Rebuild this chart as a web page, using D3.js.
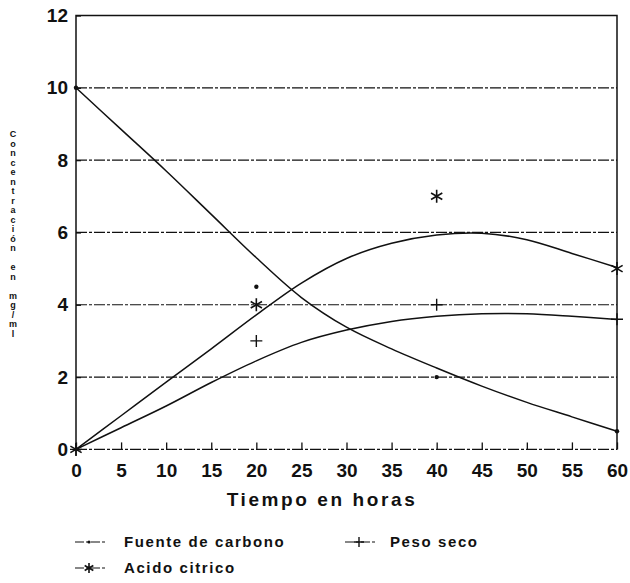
<!DOCTYPE html>
<html>
<head>
<meta charset="utf-8">
<script src="https://cdn.jsdelivr.net/npm/d3@7"></script>
<style>
  html, body { margin: 0; padding: 0; background: #fff; }
  svg { display: block; }
  text { font-family: "Liberation Sans", Arial, Helvetica, sans-serif; fill: #111; }
</style>
</head>
<body>
<svg id="chart" width="630" height="583"></svg>
<script>
// Fitted curves, sampled every 5 hours (mg/ml)
const hours = [0, 5, 10, 15, 20, 25, 30, 35, 40, 45, 50, 55, 60];
const carbonCurve = [10, 8.85, 7.7, 6.5, 5.3, 4.2, 3.38, 2.78, 2.25, 1.75, 1.3, 0.9, 0.5];
const dryWeightCurve = [0, 0.6, 1.2, 1.85, 2.45, 2.96, 3.3, 3.54, 3.68, 3.75, 3.75, 3.68, 3.59];
const citricCurve = [0, 0.93, 1.86, 2.78, 3.72, 4.6, 5.28, 5.7, 5.93, 5.98, 5.8, 5.42, 5.03];

// Measured points
const sampleHours = [0, 20, 40, 60];
const carbonPoints = [10, 4.5, 2, 0.5];
const dryWeightPoints = [0, 3, 4, 3.6];
const citricPoints = [0, 4, 7, 5];

const xTicks = [0, 5, 10, 15, 20, 25, 30, 35, 40, 45, 50, 55, 60];
const yTicks = [0, 2, 4, 6, 8, 10, 12];
const gridValues = [0, 2, 4, 6, 8, 10];

const xTitle = "Tiempo en horas";
const yTitle = "Concentración en mg/ml";
const legendLabels = ["Fuente de carbono", "Peso seco", "Acido citrico"];

const svg = d3.select("#chart");
const W = 630, H = 583;
const m = { left: 76, right: 13, top: 15.5, bottom: 133.6 };

const x = d3.scaleLinear().domain([0, 60]).range([m.left, W - m.right]);
const y = d3.scaleLinear().domain([0, 12]).range([H - m.bottom, m.top]);

const ink = "#111";
const gridDash = "11,2,3,2";

// Horizontal dash-dot grid lines (the one at 0 doubles as the x axis line)
svg.append("g").selectAll("line").data(gridValues).join("line")
  .attr("x1", x(0)).attr("x2", x(60))
  .attr("y1", d => y(d)).attr("y2", d => y(d))
  .attr("stroke", ink).attr("stroke-width", 1.2)
  .attr("stroke-dasharray", gridDash);

// Frame: left axis, top and right borders
svg.append("path")
  .attr("d", `M${x(0)},${y(0)}V${y(12)}H${x(60)}V${y(0)}`)
  .attr("fill", "none").attr("stroke", ink).attr("stroke-width", 1.5);

// X axis: ticks pointing inward, labels below
const xAxis = d3.axisBottom(x).tickValues(xTicks).tickSize(-7).tickPadding(14)
  .tickFormat(d3.format("d"));
const gx = svg.append("g").attr("transform", `translate(0,${y(0)})`).call(xAxis);
gx.select(".domain").remove();
gx.selectAll(".tick line").attr("stroke", ink).attr("stroke-width", 1.3);
gx.selectAll(".tick text")
  .attr("font-size", 19).attr("font-weight", "bold")
  .attr("font-family", "Liberation Sans, Arial, sans-serif").attr("fill", ink);

// Y axis: short inward ticks, labels on the left
const yAxis = d3.axisLeft(y).tickValues(yTicks).tickSize(-5).tickPadding(8)
  .tickFormat(d3.format("d"));
const gy = svg.append("g").attr("transform", `translate(${x(0)},0)`).call(yAxis);
gy.select(".domain").remove();
gy.selectAll(".tick line").attr("stroke", ink).attr("stroke-width", 1.3);
gy.selectAll(".tick text")
  .attr("font-size", 19).attr("font-weight", "bold")
  .attr("font-family", "Liberation Sans, Arial, sans-serif").attr("fill", ink);

// Fitted curves
const line = d3.line().x(d => x(d[0])).y(d => y(d[1])).curve(d3.curveCatmullRom.alpha(0.5));
[carbonCurve, dryWeightCurve, citricCurve].forEach(vals => {
  svg.append("path")
    .datum(hours.map((h, i) => [h, vals[i]]))
    .attr("d", line)
    .attr("fill", "none").attr("stroke", ink).attr("stroke-width", 1.5);
});

// Marker shapes
function dot(g, r) {
  g.append("circle").attr("r", r || 2.2).attr("fill", ink);
}
function plus(g, r) {
  r = r || 6;
  g.append("path").attr("d", `M${-r},0H${r}M0,${-r}V${r}`)
    .attr("stroke", ink).attr("stroke-width", 1.4).attr("fill", "none");
}
function star(g, r) {
  r = r || 6.5;
  const a = Math.cos(Math.PI / 6) * r, b = Math.sin(Math.PI / 6) * r;
  g.append("path")
    .attr("d", `M0,${-r}V${r}M${-a},${-b}L${a},${b}M${-a},${b}L${a},${-b}`)
    .attr("stroke", ink).attr("stroke-width", 1.6).attr("fill", "none");
}

function drawPoints(vals, shape) {
  sampleHours.forEach((h, i) => {
    const g = svg.append("g").attr("transform", `translate(${x(h)},${y(vals[i])})`);
    shape(g);
  });
}
drawPoints(carbonPoints, dot);
drawPoints(dryWeightPoints, plus);
drawPoints(citricPoints, star);

// X axis title
svg.append("text")
  .attr("x", 322).attr("y", 506)
  .attr("text-anchor", "middle")
  .attr("font-size", 19).attr("font-weight", "bold")
  .attr("letter-spacing", 2.6)
  .text(xTitle);

// Y axis title: upright letters stacked vertically
const yt = svg.append("text")
  .attr("font-size", 9).attr("font-weight", "bold")
  .attr("text-anchor", "middle");
Array.from(yTitle).forEach((ch, i) => {
  yt.append("tspan").attr("x", 13).attr("y", 137 + i * 9.5).text(ch === " " ? "\u00a0" : ch);
});

// Legend
const legend = [
  { label: legendLabels[0], shape: dot, lx: 75, tx: 124, y: 542 },
  { label: legendLabels[1], shape: plus, lx: 345, tx: 390, y: 542 },
  { label: legendLabels[2], shape: star, lx: 75, tx: 124, y: 568 }
];
legend.forEach(l => {
  svg.append("line")
    .attr("x1", l.lx).attr("x2", l.lx + 32).attr("y1", l.y).attr("y2", l.y)
    .attr("stroke", ink).attr("stroke-width", 1.2).attr("stroke-dasharray", "9,2,3,2");
  const g = svg.append("g").attr("transform", `translate(${l.lx + 14},${l.y})`);
  l.shape(g, l.shape === dot ? 1.6 : 5);
  svg.append("text")
    .attr("x", l.tx).attr("y", l.y + 5)
    .attr("font-size", 15).attr("font-weight", "bold")
    .attr("letter-spacing", 1.6)
    .text(l.label);
});
</script>
</body>
</html>
